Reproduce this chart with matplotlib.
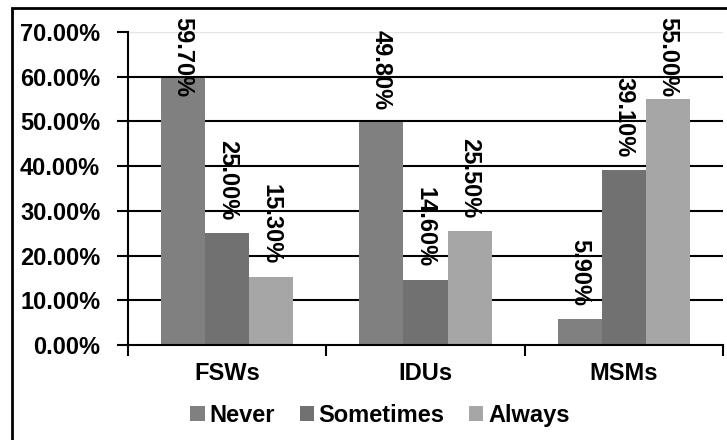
import matplotlib
matplotlib.use("Agg")
import matplotlib.pyplot as plt
import numpy as np
from matplotlib.patches import Rectangle

# --- Data ---
groups = ["FSWs", "IDUs", "MSMs"]
series = ["Never", "Sometimes", "Always"]
never = [59.7, 49.8, 5.9]
sometimes = [25.0, 14.6, 39.1]
always = [15.3, 25.5, 55.0]
yticks = [0, 10, 20, 30, 40, 50, 60, 70]

colors = ["#808080", "#717171", "#a6a6a6"]
FONT = "Liberation Sans"
FS = 17

plt.rcParams["font.family"] = [FONT, "DejaVu Sans"]
plt.rcParams["font.weight"] = "bold"

fig = plt.figure(figsize=(7.27, 4.40), dpi=100)
ax = fig.add_axes([128 / 727, 95 / 440, 595 / 727, 313 / 440])

# outer chart frame (runs off the right and bottom edges)
fig.patches.append(Rectangle((12 / 727, -0.1), 1.2, 0.1 + 432 / 440,
                             transform=fig.transFigure, fill=False,
                             edgecolor="black", linewidth=2, zorder=0))

x = np.arange(len(groups))
w = 0.222
bars = []
for i, (vals, name) in enumerate(zip([never, sometimes, always], series)):
    b = ax.bar(x + (i - 1) * w, vals, width=w, color=colors[i],
               label=name, zorder=3, linewidth=0)
    bars.append((b, vals))

ax.set_xlim(-0.5, 2.5)
ax.set_ylim(0, 70)
ax.set_yticks(yticks)
ax.set_yticklabels([f"{v:.2f}%" for v in yticks], fontsize=FS, fontweight="bold")
ax.tick_params(axis="y", length=8, width=1.5, pad=12)

ax.set_xticks(x)
ax.set_xticklabels(groups, fontsize=FS, fontweight="bold")
ax.set_xticks([-0.5, 0.5, 1.5, 2.5], minor=True)
ax.tick_params(axis="x", which="major", length=0, pad=12)
ax.tick_params(axis="x", which="minor", length=8, width=1.5)

for t in yticks[1:-1]:
    ax.axhline(t, color="black", linewidth=1.5, zorder=1)
ax.axhline(70, color="#e6e6e6", linewidth=1, zorder=1)

for s in ["top", "right"]:
    ax.spines[s].set_visible(False)
for s in ["left", "bottom"]:
    ax.spines[s].set_linewidth(1.5)
    ax.spines[s].set_zorder(4)

# value labels, rotated, sitting above each bar
labels = []
for b, vals in bars:
    for rect, v in zip(b, vals):
        t = ax.annotate(f"{v:.2f}%", xy=(rect.get_x() + rect.get_width() / 2, v),
                        xytext=(0, 9), textcoords="offset points",
                        ha="center", va="bottom", rotation=-90,
                        fontsize=FS, fontweight="bold", zorder=5)
        labels.append(t)

# keep labels inside the chart frame
fig.canvas.draw()
renderer = fig.canvas.get_renderer()
top_px = ax.get_window_extent().y1 + 15
for t in labels:
    bb = t.get_window_extent(renderer)
    if bb.y1 > top_px:
        dx, dy = t.xyann
        t.xyann = (dx, dy - (bb.y1 - top_px) * 72 / fig.dpi)

fig.legend(loc="center", bbox_to_anchor=(380 / 727, 1 - 415 / 440),
           ncol=3, frameon=False, prop={"weight": "bold", "size": FS},
           handlelength=0.6, handleheight=0.6, handletextpad=0.2,
           columnspacing=1.05)

fig.savefig("out.png", dpi=100)
